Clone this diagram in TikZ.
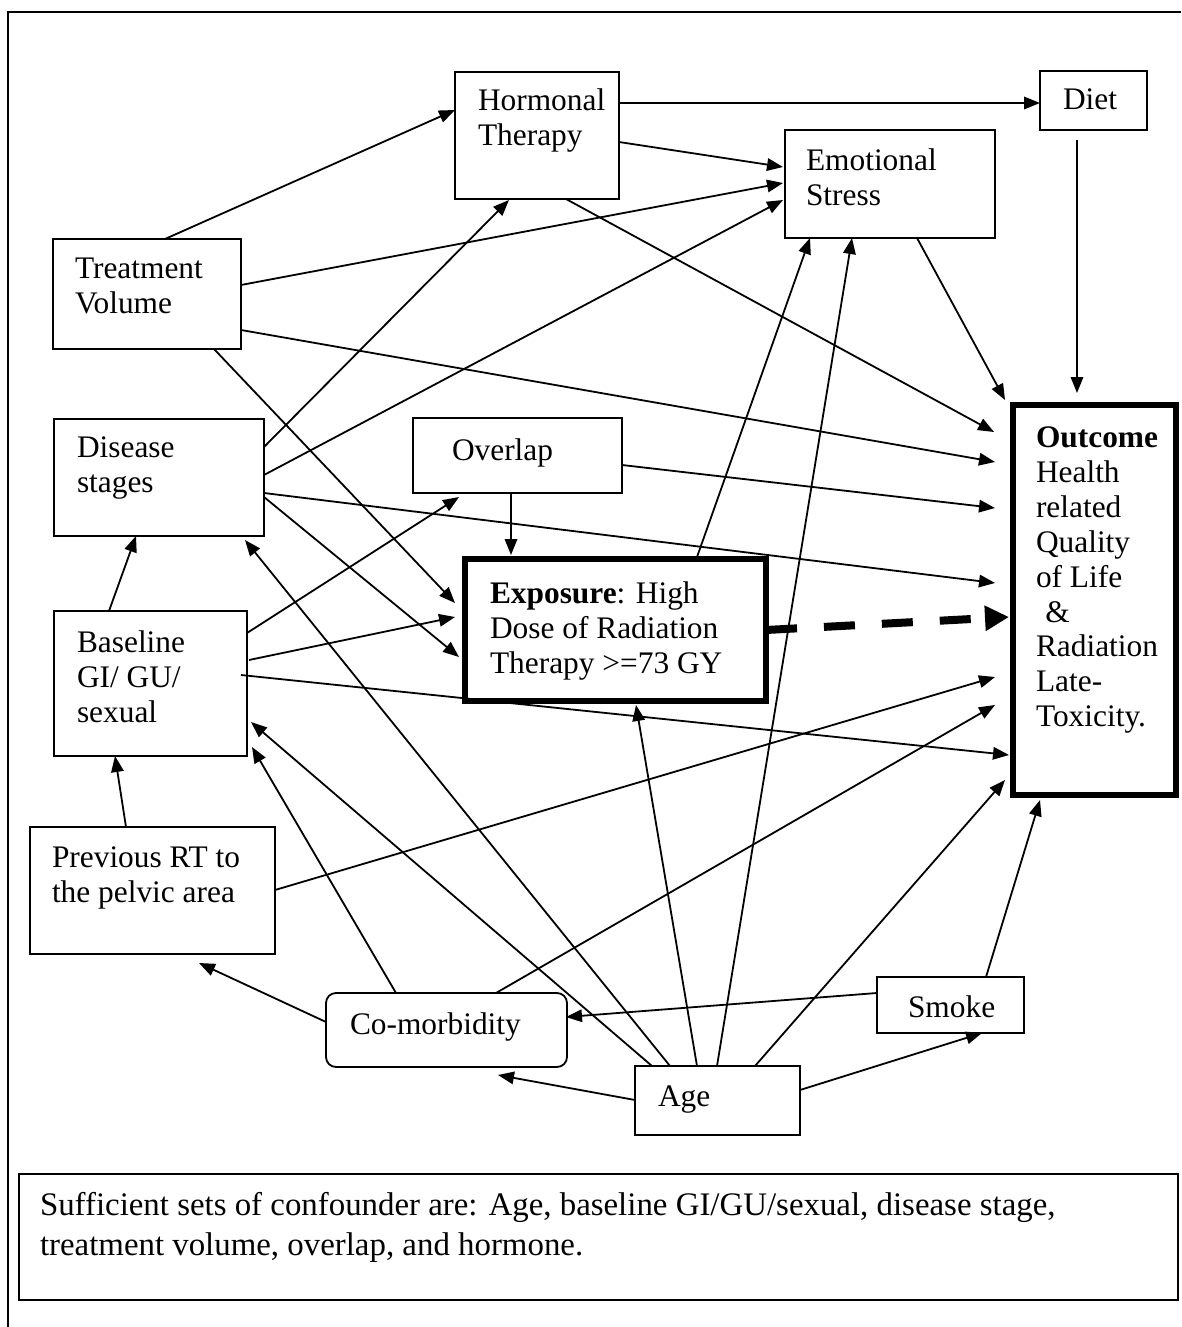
\documentclass[tikz,border=0pt]{standalone}
\usepackage{fontspec}
\setmainfont{Liberation Serif}
\usetikzlibrary{arrows.meta,calc}
% box contents: width, height, top pad, left pad, text
\newcommand{\boxtext}[5]{\parbox[t][#2bp][t]{#1bp}{\vspace*{#3bp}\raggedright\leftskip=#4bp\relax #5}}

\begin{document}
\begin{tikzpicture}[x=1bp,y=-1bp,
  box/.style={draw,line width=1.8bp,inner sep=0pt,outer sep=0pt,anchor=north west,
    font=\fontsize{31.5}{35}\selectfont},
  heavy/.style={box,line width=5.5bp},
  arr/.style={-{Triangle[length=16bp,width=12.5bp]},line width=1.8bp},
  dasharr/.style={-{Triangle[length=24bp,width=24bp]},line width=8bp,dash pattern=on 31bp off 27bp}]
\useasboundingbox (0,0) rectangle (1181,1327);
\draw[line width=1.8bp] (1181,12) -- (8,12) -- (8,1327);

% boxes
\node[box] (hor) at (455,72) {\boxtext{164}{127}{17}{23}{Hormonal\\Therapy}};
\node[box] (diet) at (1040,71) {\boxtext{107}{59}{18}{23}{Diet}};
\node[box] (emo) at (785,130) {\boxtext{210}{108}{19}{21}{Emotional\\Stress}};
\node[box] (tvol) at (53,239) {\boxtext{188}{110}{19}{22}{Treatment\\Volume}};
\node[box] (dis) at (54,419) {\boxtext{210}{117}{18}{23}{Disease\\stages}};
\node[box] (ovl) at (413,418) {\boxtext{209}{75}{21}{39}{Overlap}};
\node[heavy] (expo) at (465,559) {\boxtext{301}{142}{23}{25}{\textbf{Exposure}: High\\Dose of Radiation\\Therapy >=73 GY}};
\node[heavy] (out) at (1013,405) {\boxtext{163}{390}{22}{23}{\textbf{Outcome}\\Health\\related\\Quality\\of Life\\\hspace*{0.3em}\&\\Radiation\\Late-\\Toxicity.}};
\node[box] (base) at (54,611) {\boxtext{193}{145}{20}{23}{Baseline\\GI/ GU/\\sexual}};
\node[box] (prev) at (30,827) {\boxtext{245}{127}{20}{22}{Previous RT to\\the pelvic area}};
\node[box,rounded corners=10bp] (comorb) at (326,993) {\boxtext{241}{74}{20}{24}{Co-morbidity}};
\node[box] (age) at (635,1066) {\boxtext{165}{69}{20}{23}{Age}};
\node[box] (smoke) at (877,977) {\boxtext{147}{56}{19}{31}{Smoke}};
\node[box,font=\fontsize{33}{40}\selectfont] (suff) at (19,1174) {\boxtext{1159}{126}{18}{21}{Sufficient sets of confounder are: Age, baseline GI/GU/sexual, disease stage,\\treatment volume, overlap, and hormone.}};

% arrows
\draw[arr] ($(tvol.north west)+(112,0)$) -- ($(hor.north west)+(0,38)$);
\draw[arr] ($(hor.north west)+(164,31)$) -- ($(diet.north west)+(0,32)$);
\draw[arr] ($(hor.north west)+(164,70)$) -- ($(emo.north west)+(-2,37)$);
\draw[arr] ($(tvol.north west)+(188,46)$) -- ($(emo.north west)+(-2,53)$);
\draw[arr] ($(dis.north west)+(210,56)$) -- ($(emo.north west)+(-2,70)$);
\draw[arr] ($(dis.north west)+(210,28)$) -- ($(hor.north west)+(54,128)$);
\draw[arr] ($(hor.north west)+(111,127)$) -- ($(out.north west)+(-19,27)$);
\draw[arr] ($(tvol.north west)+(188,91)$) -- ($(out.north west)+(-18,57)$);
\draw[arr] ($(tvol.north west)+(161,110)$) -- ($(expo.north west)+(-10,44)$);
\draw[arr] ($(emo.north west)+(132,108)$) -- ($(out.north west)+(-8,-5)$);
\draw[arr] ($(diet.north west)+(37,69)$) -- ($(out.north west)+(64,-12)$);
\draw[arr] ($(ovl.north west)+(209,47)$) -- ($(out.north west)+(-18,103)$);
\draw[arr] ($(ovl.north west)+(98,75)$) -- ($(expo.north west)+(46,-4)$);
\draw[arr] ($(dis.north west)+(210,74)$) -- ($(out.north west)+(-18,178)$);
\draw[arr] ($(dis.north west)+(210,78)$) -- ($(expo.north west)+(-6,98)$);
\draw[arr] ($(base.north west)+(55,0)$) -- ($(dis.north west)+(82,117)$);
\draw[arr] ($(base.north west)+(193,22)$) -- ($(ovl.north west)+(46,79)$);
\draw[arr] ($(base.north west)+(195,49)$) -- ($(expo.north west)+(-10,58)$);
\draw[arr] ($(base.north west)+(187,64)$) -- ($(out.north west)+(-4,350)$);
\draw[arr] ($(prev.north west)+(96,0)$) -- ($(base.north west)+(61,145)$);
\draw[arr] ($(prev.north west)+(245,63)$) -- ($(out.north west)+(-18,272)$);
\draw[dasharr] ($(expo.north west)+(301,71)$) -- ($(out.north west)+(-4,212)$);
\draw[arr] ($(expo.north west)+(232,-2)$) -- ($(emo.north west)+(25,108)$);
\draw[arr] ($(age.north west)+(82,0)$) -- ($(emo.north west)+(67,108)$);
\draw[arr] ($(age.north west)+(62,0)$) -- ($(expo.north west)+(171,146)$);
\draw[arr] ($(age.north west)+(35,0)$) -- ($(dis.north west)+(191,121)$);
\draw[arr] ($(age.north west)+(17,0)$) -- ($(base.north west)+(197,111)$);
\draw[arr] ($(comorb.north west)+(70,0)$) -- ($(base.north west)+(198,136)$);
\draw[arr] ($(comorb.north west)+(0,29)$) -- ($(prev.north west)+(169,136)$);
\draw[arr] ($(comorb.north west)+(170,0)$) -- ($(out.north west)+(-18,300)$);
\draw[arr] ($(age.north west)+(120,0)$) -- ($(out.north west)+(-8,375)$);
\draw[arr] ($(age.north west)+(0,34)$) -- ($(comorb.north west)+(172,82)$);
\draw[arr] ($(age.north west)+(165,24)$) -- ($(smoke.north west)+(105,56)$);
\draw[arr] ($(smoke.north west)+(0,16)$) -- ($(comorb.north west)+(240,24)$);
\draw[arr] ($(smoke.north west)+(109,0)$) -- ($(out.north west)+(27,395)$);
\end{tikzpicture}
\end{document}
